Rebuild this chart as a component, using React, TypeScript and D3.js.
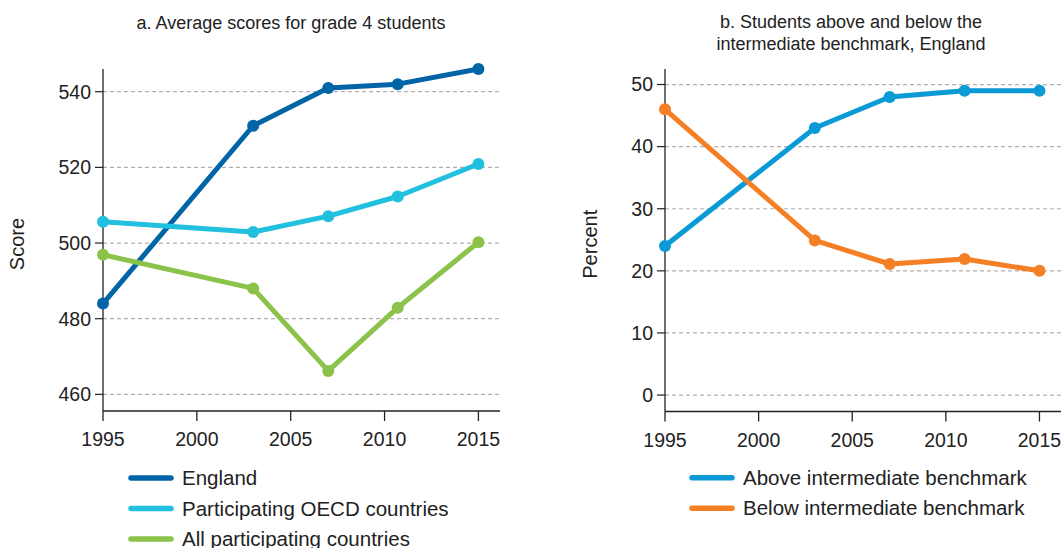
import React from "react";
import * as d3 from "d3";

const yearsA = [1995, 2003, 2007, 2010.7, 2015];
const england = [484, 531, 541, 542, 546];
const oecd = [505.6, 502.9, 507.1, 512.3, 520.9];
const allCountries = [496.9, 488, 466.2, 482.9, 500.2];
const yTicksA = [460, 480, 500, 520, 540];

const yearsB = [1995, 2003, 2007, 2011, 2015];
const above = [24, 43, 48, 49, 49];
const below = [46, 24.9, 21.1, 21.9, 20];
const yTicksB = [0, 10, 20, 30, 40, 50];

const xTicks = [1995, 2000, 2005, 2010, 2015];

const FONT = "'Liberation Sans', Arial, sans-serif";

type Series = { name: string; color: string; years: number[]; values: number[] };

function Panel(props: {
  left: number; right: number; top: number; bottom: number;
  yDomain: [number, number]; yTicks: number[]; yLabel: string; yLabelX: number;
  series: Series[]; title: string[]; titleX: number; titleY: number;
  legendX: number; legendY: number;
}) {
  const { left, right, top, bottom, yDomain, yTicks, yLabel, yLabelX, series, title, titleX, titleY, legendX, legendY } = props;
  const x = d3.scaleLinear().domain([1995, 2016.15]).range([left, right]);
  const y = d3.scaleLinear().domain(yDomain).range([bottom, top]);
  const line = d3.line<[number, number]>().x((d) => x(d[0])).y((d) => y(d[1]));
  return (
    <g>
      {title.map((t, i) => (
        <text key={i} x={titleX} y={titleY + i * 22} textAnchor="middle" fontSize={18} fill="#222">{t}</text>
      ))}
      {yTicks.map((t) => (
        <g key={t}>
          <line x1={left} x2={right} y1={y(t)} y2={y(t)} stroke="#b0b0b0" strokeWidth={1.2} strokeDasharray="4,3" />
          <line x1={left - 8} x2={left} y1={y(t)} y2={y(t)} stroke="#222" strokeWidth={1.2} />
          <text x={left - 12} y={y(t)} dy="0.35em" textAnchor="end" fontSize={19.5} fill="#222">{t}</text>
        </g>
      ))}
      <line x1={left} x2={left} y1={top} y2={bottom} stroke="#222" strokeWidth={1.3} />
      <line x1={left} x2={right} y1={bottom} y2={bottom} stroke="#222" strokeWidth={1.3} />
      {xTicks.map((t) => (
        <g key={t}>
          <line x1={x(t)} x2={x(t)} y1={bottom} y2={bottom + 10} stroke="#222" strokeWidth={1.3} />
          <text x={x(t)} y={bottom + 35} textAnchor="middle" fontSize={19.5} fill="#222">{t}</text>
        </g>
      ))}
      <text transform={`translate(${yLabelX},${(top + bottom) / 2 + 4}) rotate(-90)`} textAnchor="middle" dy="0.35em" fontSize={20} fill="#222">{yLabel}</text>
      {series.map((s) => {
        const pts = s.years.map((yr, i) => [yr, s.values[i]] as [number, number]);
        return (
          <g key={s.name}>
            <path d={line(pts) || ""} fill="none" stroke={s.color} strokeWidth={5} strokeLinejoin="round" />
            {pts.map((p, i) => (
              <circle key={i} cx={x(p[0])} cy={y(p[1])} r={6} fill={s.color} />
            ))}
          </g>
        );
      })}
      {series.map((s, i) => (
        <g key={s.name} transform={`translate(${legendX},${legendY + i * 30.5})`}>
          <line x1={0} x2={40} y1={0} y2={0} stroke={s.color} strokeWidth={5.5} strokeLinecap="round" />
          <text x={51} y={0} dy="0.35em" fontSize={20.5} fill="#222">{s.name}</text>
        </g>
      ))}
    </g>
  );
}

export default function App() {
  const seriesA: Series[] = [
    { name: "England", color: "#0064a7", years: yearsA, values: england },
    { name: "Participating OECD countries", color: "#20c0de", years: yearsA, values: oecd },
    { name: "All participating countries", color: "#8bc34a", years: yearsA, values: allCountries },
  ];
  const seriesB: Series[] = [
    { name: "Above intermediate benchmark", color: "#0a9bd7", years: yearsB, values: above },
    { name: "Below intermediate benchmark", color: "#f47f24", years: yearsB, values: below },
  ];
  return (
    <svg width={1062} height={548} style={{ position: "absolute", left: 0, top: 0, background: "#fff" }} fontFamily={FONT}>
      <Panel left={103} right={500} top={69} bottom={411} yDomain={[455.6, 546]} yTicks={yTicksA}
        yLabel="Score" yLabelX={17} series={seriesA} title={["a. Average scores for grade 4 students"]}
        titleX={291} titleY={29} legendX={131} legendY={478} />
      <Panel left={665} right={1061} top={69} bottom={411.5} yDomain={[-2.65, 52.5]} yTicks={yTicksB}
        yLabel="Percent" yLabelX={590} series={seriesB}
        title={["b. Students above and below the", "intermediate benchmark, England"]}
        titleX={851} titleY={28} legendX={692} legendY={477.7} />
    </svg>
  );
}
